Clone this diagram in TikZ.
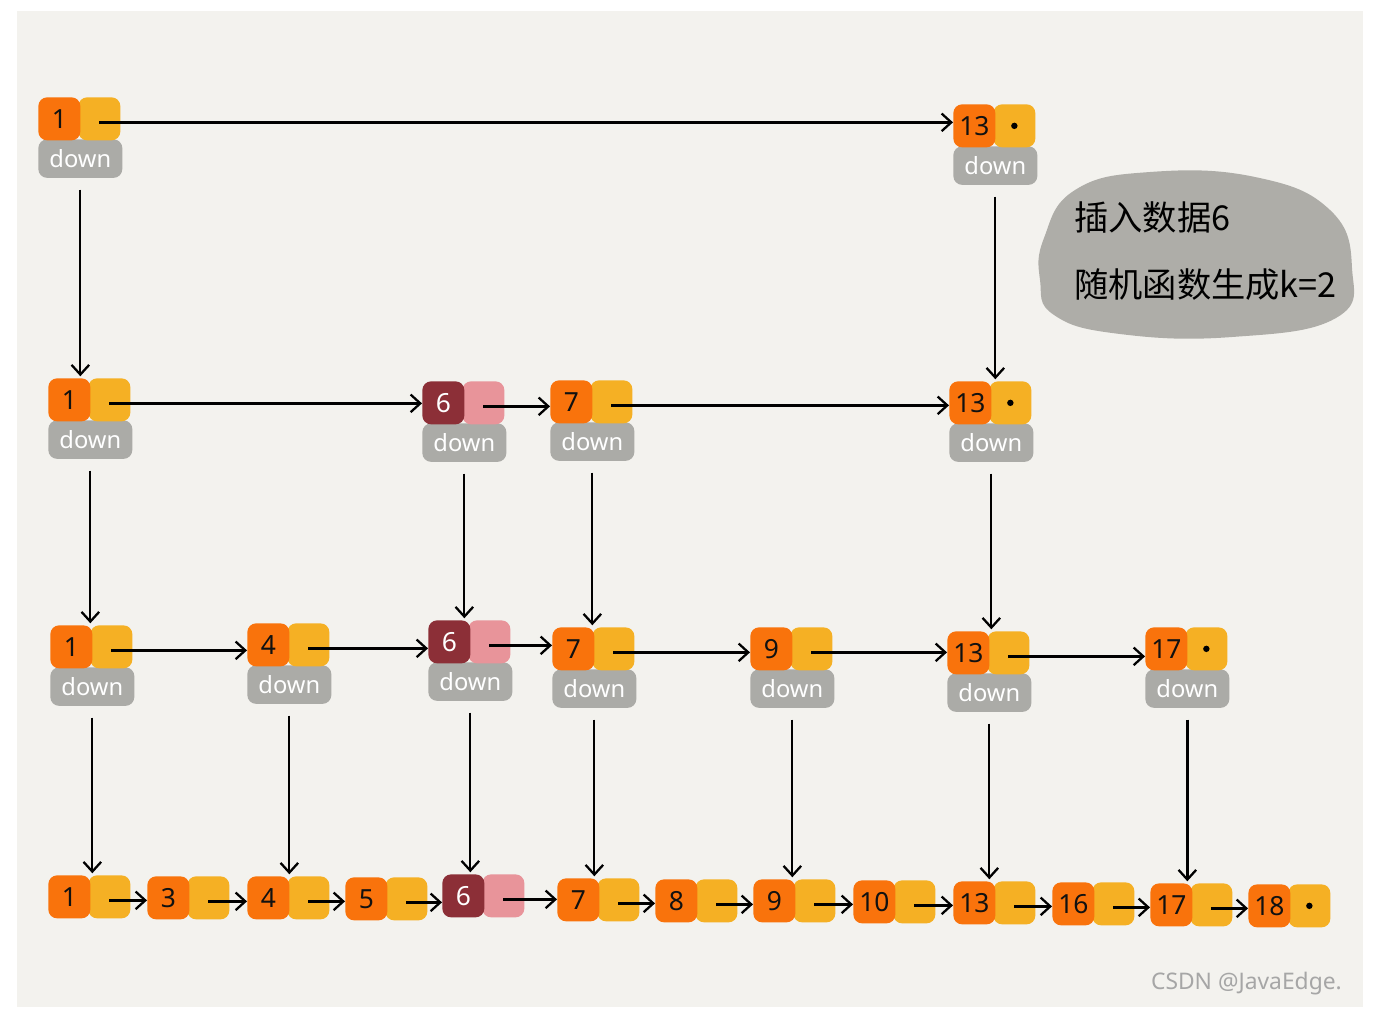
\documentclass[tikz,border=0pt]{standalone}
\usepackage{fontspec}
\setmainfont{Noto Sans}
\newfontfamily\cjk{Noto Sans CJK SC}
\usetikzlibrary{arrows.meta,calc}
\definecolor{bgc}{HTML}{F3F2EE}
\definecolor{na}{HTML}{F9730C}
\definecolor{nb}{HTML}{F5B024}
\definecolor{nt}{HTML}{111111}
\definecolor{ra}{HTML}{8C2F37}
\definecolor{rb}{HTML}{E8949A}
\definecolor{rt}{HTML}{FFFFFF}
\definecolor{grayc}{HTML}{ABABA7}
\definecolor{bubc}{HTML}{AEADA8}
\definecolor{wmc}{HTML}{A6A6A6}
\newcommand\sknode[5]{%
  \node[yelbox, fill=#5b] (#1-y) at ({#2+40},#3) {};
  \node[orbox, fill=#5a, text=#5t] (#1-o) at (#2,#3) {#4};}
\newcommand\skfull[5]{%
  \node[downbox] (#1-d) at (#2,{#3+42}) {down};
  \sknode{#1}{#2}{#3}{#4}{#5}}
\begin{document}
\begin{tikzpicture}[x=0.02cm,y=-0.02cm,
  orbox/.style={rounded corners=5pt, minimum width=0.84cm, minimum height=0.86cm, inner sep=0pt, anchor=north west, font=\fontsize{15}{15}\selectfont},
  yelbox/.style={rounded corners=5pt, minimum width=0.84cm, minimum height=0.86cm, inner sep=0pt, anchor=north west},
  downbox/.style={fill=grayc, rounded corners=5pt, minimum width=1.68cm, minimum height=0.77cm, inner sep=0pt, anchor=north west, text=white, font=\fontsize{13.5}{13.5}\selectfont},
  arr/.style={-{Straight Barb[length=5.5pt,width=10pt]}, line width=1.3pt, black},
  varr/.style={arr, shorten <=6.5pt, shorten >=1pt},
  dotc/.style={fill=black}]
\useasboundingbox (0,0) rectangle (1382,1035);
\fill[white] (0,0) rectangle (1382,1035);
\fill[bgc] (17,11) rectangle (1363,1007);
% bubble
\fill[bubc] plot[smooth cycle, tension=0.75] coordinates {(1044,238) (1075,190) (1150,172) (1255,177) (1330,210) (1352,268) (1336,318) (1232,337) (1120,334) (1054,315) (1040,280)};
\node[anchor=west, font=\cjk\fontsize{19.5}{19.5}\selectfont] (t1) at (1068,218) {插入数据6};
\node[anchor=west, font=\cjk\fontsize{19.5}{19.5}\selectfont] (t2) at (1068,285) {随机函数生成k=2};
% level 3
\skfull{a1}{38}{97}{1}{n}
\skfull{a13}{953}{104}{13}{n}
% level 2
\skfull{b1}{48}{378}{1}{n}
\skfull{b6}{422}{381}{6}{r}
\skfull{b7}{550}{380}{7}{n}
\skfull{b13}{949}{381}{13}{n}
% level 1
\skfull{c1}{50}{625}{1}{n}
\skfull{c4}{247}{623}{4}{n}
\skfull{c6}{428}{620}{6}{r}
\skfull{c7}{552}{627}{7}{n}
\skfull{c9}{750}{627}{9}{n}
\skfull{c13}{947}{631}{13}{n}
\skfull{c17}{1145}{627}{17}{n}
% level 0
\sknode{d1}{48}{875}{1}{n}
\sknode{d3}{147}{876}{3}{n}
\sknode{d4}{247}{876}{4}{n}
\sknode{d5}{345}{877}{5}{n}
\sknode{d6}{442}{874}{6}{r}
\sknode{d7}{557}{878}{7}{n}
\sknode{d8}{655}{879}{8}{n}
\sknode{d9}{753}{879}{9}{n}
\sknode{d10}{853}{880}{10}{n}
\sknode{d13}{953}{881}{13}{n}
\sknode{d16}{1052}{882}{16}{n}
\sknode{d17}{1150}{883}{17}{n}
\sknode{d18}{1248}{884}{18}{n}
% dots
\fill[dotc] (a13-y.center) circle (3.2);
\fill[dotc] (b13-y.center) circle (3.2);
\fill[dotc] (c17-y.center) circle (3.2);
\fill[dotc] (d18-y.center) circle (3.2);
% horizontal arrows
\foreach \p/\q in {a1/a13,b1/b6,b6/b7,b7/b13,c1/c4,c4/c6,c6/c7,c7/c9,c9/c13,c13/c17,d1/d3,d3/d4,d4/d5,d5/d6,d6/d7,d7/d8,d8/d9,d9/d10,d10/d13,d13/d16,d16/d17,d17/d18}
  \draw[arr] ([yshift=-2pt]\p-y.center) -- ([yshift=-2pt]\p-y.center -| \q-o.west);
% vertical arrows
\foreach \p/\q in {a1/b1,a13/b13,b1/c1,b6/c6,b7/c7,b13/c13,c1/d1,c4/d4,c6/d6,c7/d7,c9/d9,c13/d13,c17/d17}
  \draw[varr] (\p-d.south) -- (\p-d.south |- \q-o.north);
% watermark
\node[anchor=east, text=wmc, font=\fontsize{13}{13}\selectfont] (wm) at (1348,984) {CSDN @JavaEdge.};
\end{tikzpicture}
\end{document}
